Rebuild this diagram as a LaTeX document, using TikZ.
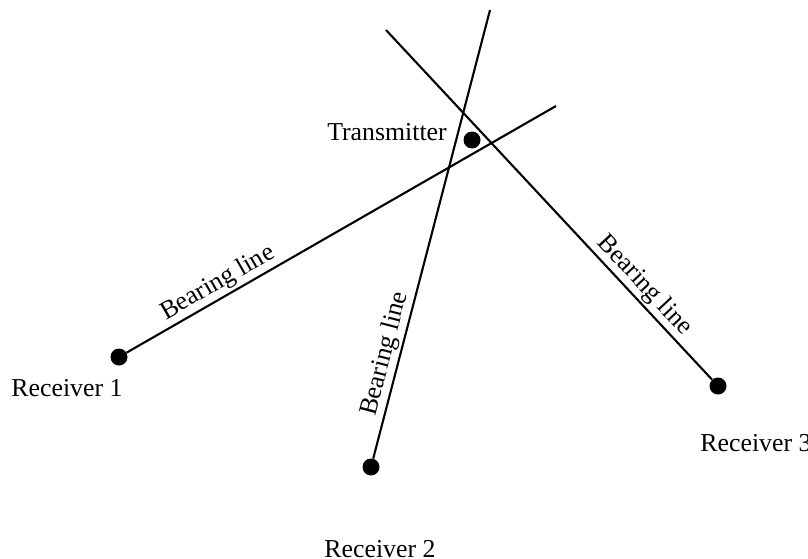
\documentclass[tikz,border=0pt]{standalone}
\usepackage{fontspec}
\setmainfont{Liberation Serif}
\begin{document}
\begin{tikzpicture}[x=1pt,y=-1pt,
  dot/.style={circle,fill=black,minimum size=17pt,inner sep=0pt},
  bline/.style={line width=2.1pt},
  lbl/.style={font=\fontsize{25.8}{28}\selectfont,inner sep=2pt},
  blab/.style={lbl,sloped,above}]
\useasboundingbox (0,0) rectangle (808,559);
\node[dot] (r1) at (119,357) {};
\node[dot] (r2) at (371,467) {};
\node[dot] (r3) at (718,386) {};
\node[dot] (tx) at (472,140) {};
\coordinate (e1) at (556,106);
\coordinate (e2) at (490,10);
\coordinate (e3) at (386,30);
\draw[bline] (r1) -- node[blab,pos=0.23] {Bearing line} (e1);
\draw[bline] (r2) -- node[blab,pos=0.225] {Bearing line} (e2);
\draw[bline] (r3) -- node[blab,pos=0.24] {Bearing line} (e3);
\node[lbl] (l1) at (67,388) {Receiver 1};
\node[lbl] (l2) at (380,549) {Receiver 2};
\node[lbl] (l3) at (756,443) {Receiver 3};
\node[lbl] (lt) at (387,132) {Transmitter};
\end{tikzpicture}
\end{document}
